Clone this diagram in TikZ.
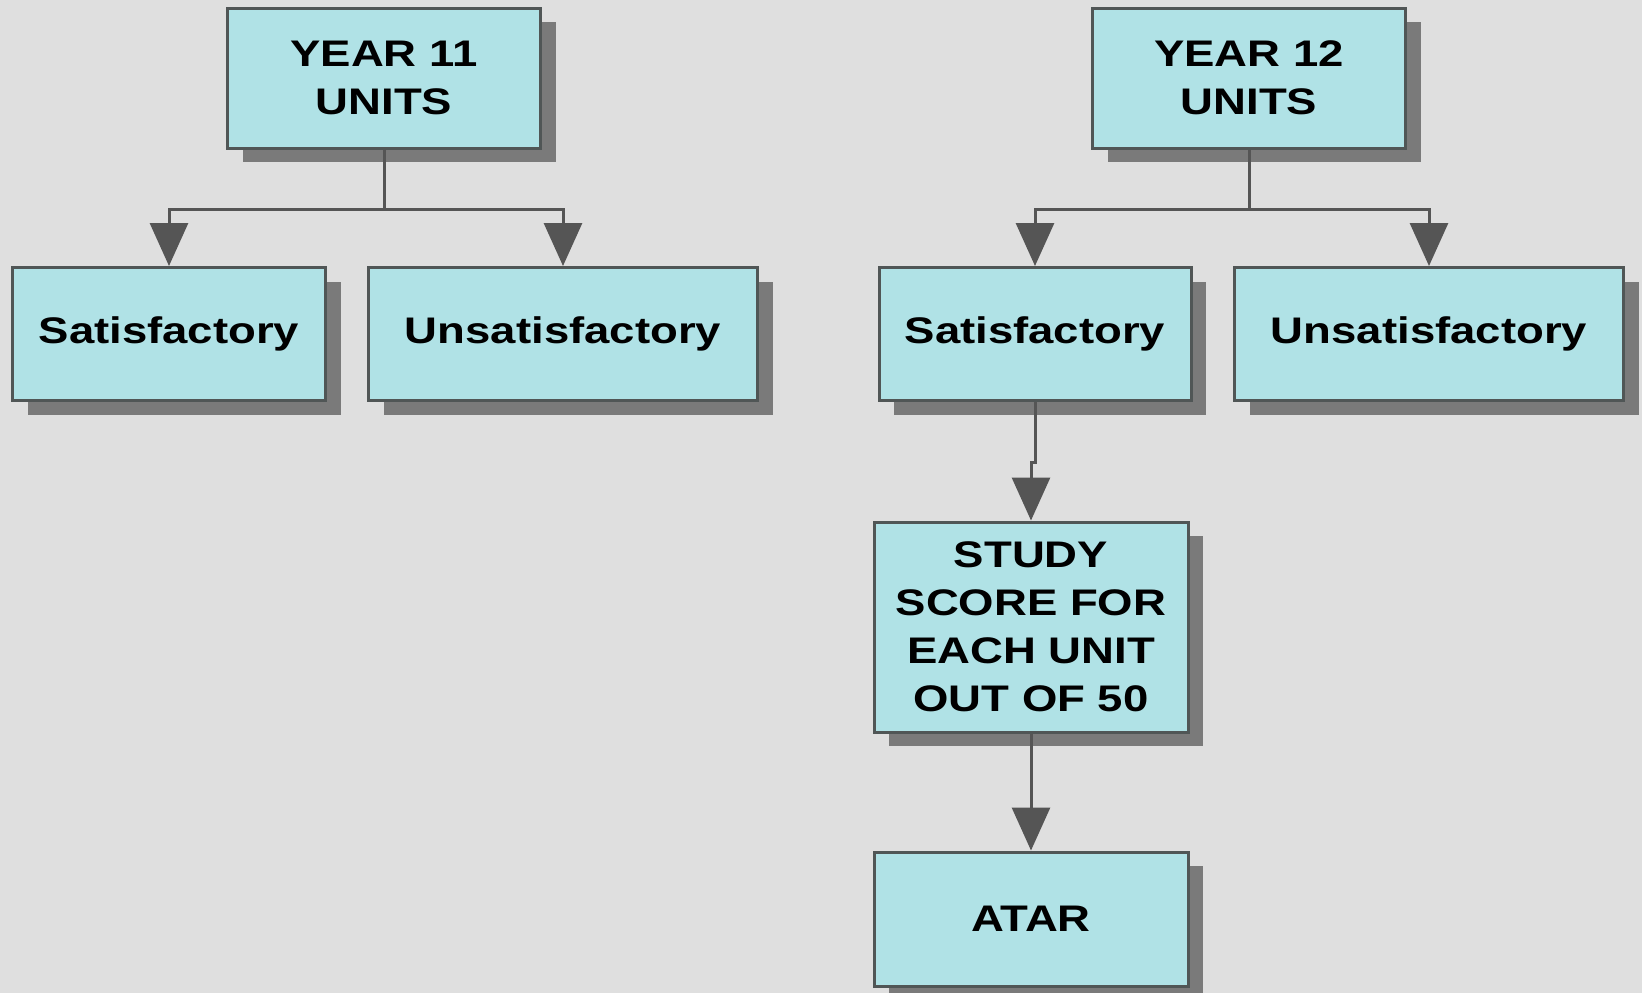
\documentclass[tikz,border=0pt]{standalone}
\usepackage{fontspec}
\setmainfont{Liberation Sans}[FakeStretch=1.23]
\usetikzlibrary{arrows.meta,shadows}
\definecolor{bg}{HTML}{DFDFDF}
\definecolor{boxfill}{HTML}{B0E2E6}
\definecolor{edge}{HTML}{505656}
\definecolor{shade}{HTML}{7A7A7A}
\definecolor{wire}{HTML}{555555}

\begin{document}
\begin{tikzpicture}
  [x=1pt,y=-1pt,
   every node/.style={draw=edge,line width=3pt,fill=boxfill,align=center,inner sep=0pt,
     font=\fontsize{37}{48}\selectfont\bfseries,
     drop shadow={shadow xshift=15pt,shadow yshift=-14pt,fill=shade,opacity=1}},
   link/.style={draw=wire,line width=3pt,-{Triangle[width=38pt,length=43pt]}}]
  \fill[bg] (0,0) rectangle (1642,993);
  \useasboundingbox (0,0) rectangle (1642,993);
  \node[minimum width=313pt,minimum height=140pt] (y11) at (384,78)  {YEAR 11\\UNITS};
  \node[minimum width=313pt,minimum height=140pt] (y12) at (1249,78) {YEAR 12\\UNITS};
  \node[minimum width=313pt,minimum height=133pt] (s11) at (169,334) {Satisfactory};
  \node[minimum width=389pt,minimum height=133pt] (u11) at (563,334) {Unsatisfactory};
  \node[minimum width=312pt,minimum height=133pt] (s12) at (1035,334) {Satisfactory};
  \node[minimum width=389pt,minimum height=133pt] (u12) at (1429,334) {Unsatisfactory};
  \node[minimum width=314pt,minimum height=210pt] (sc) at (1031,627) {STUDY\\SCORE FOR\\EACH UNIT\\OUT OF 50};
  \node[minimum width=314pt,minimum height=134pt] (atar) at (1031,919) {ATAR};
  \foreach \from/\to in {y11/s11,y11/u11,y12/s12,y12/u12,s12/sc}
    \draw[link] (\from.south) -- ++(0,60) -| (\to.north);
  \draw[link] (sc.south) -- (atar.north);
\end{tikzpicture}
\end{document}
